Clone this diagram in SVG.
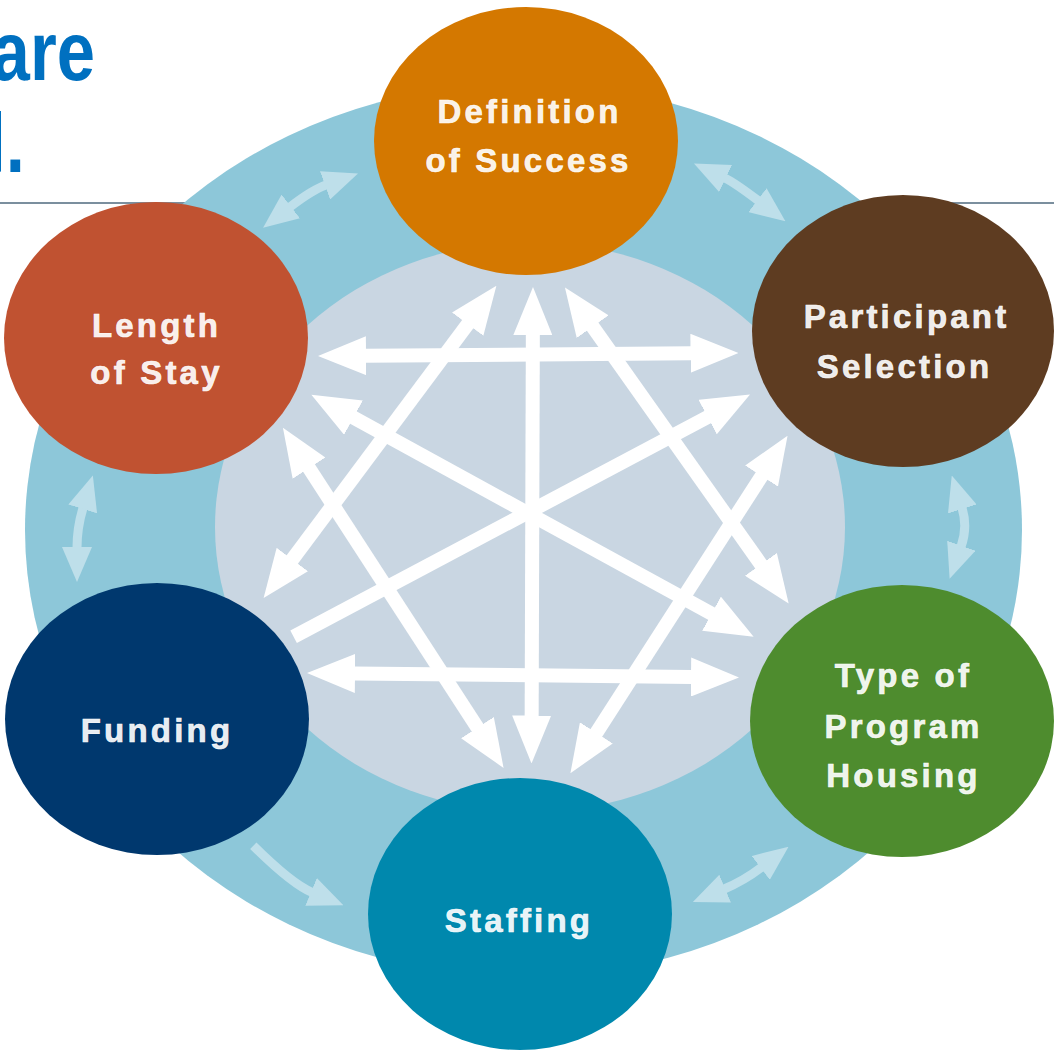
<svg xmlns="http://www.w3.org/2000/svg" width="1054" height="1053" viewBox="0 0 1054 1053">
<style>
.lbl{font-family:"Liberation Sans",Arial,sans-serif;font-weight:bold;font-size:33px;letter-spacing:3.2px;fill:#FFFFFF;fill-opacity:0.92;stroke:#FFFFFF;stroke-opacity:0.9;stroke-width:0.7px;text-anchor:middle}
.ttl{font-family:"Liberation Sans",Arial,sans-serif;font-weight:bold;font-size:84px;fill:#0070C0;text-anchor:end}
.wa{stroke:#FFFFFF;stroke-width:14;fill:none;marker-start:url(#wh);marker-end:url(#wh)}
.ra{stroke:#BEDFEA;stroke-width:9;fill:none;marker-end:url(#rh)}
.rb{marker-start:url(#rh)}
</style>
<defs>
<marker id="wh" markerUnits="userSpaceOnUse" markerWidth="48" markerHeight="39" refX="1" refY="19.5" orient="auto-start-reverse"><path d="M0,0 L48,19.5 L0,39 z" fill="#FFFFFF"/></marker>
<marker id="rh" markerUnits="userSpaceOnUse" markerWidth="35" markerHeight="30" refX="1" refY="15" orient="auto-start-reverse"><path d="M0,0 L35,15 L0,30 z" fill="#BEDFEA"/></marker>
</defs>
<rect width="1054" height="1053" fill="#FFFFFF"/>
<g id="title">
<line x1="0" y1="203" x2="1054" y2="203" stroke="#4F6A7E" stroke-width="1.6"/>
<text class="ttl" transform="translate(95,80) scale(0.82,1)">are</text>
<text class="ttl" transform="translate(25,172) scale(0.82,1)">l.</text>
</g>
<g id="background">
<ellipse cx="523.5" cy="530" rx="498.5" ry="447" fill="#8DC7D9"/>
<ellipse cx="530" cy="527" rx="315" ry="285" fill="#C9D6E2"/>
</g>
<g id="connectors">
<path class="ra rb" d="M290,207 Q312,190 326,185"/>
<path class="ra rb" d="M724.7,178 Q734.6,182.7 758.3,200.7"/>
<path class="ra rb" d="M962,508 Q968,527 961,546.7"/>
<path class="ra rb" d="M761.5,867.3 Q743.8,880.8 724.2,889"/>
<path class="ra" d="M253.3,845.7 Q292,884 312,892.3"/>
<path class="ra rb" d="M83,508 Q77,527.8 77,548"/>
<line class="wa" x1="532.85" y1="334" x2="531.65" y2="716.5"/>
<line class="wa" x1="365" y1="355.67" x2="691.5" y2="353.33"/>
<line class="wa" x1="354" y1="673.5" x2="692" y2="677"/>
<line class="wa" x1="468.3" y1="323.4" x2="291.7" y2="560.3"/>
<line class="wa" x1="592.1" y1="325.9" x2="761.5" y2="565.2"/>
<line class="wa" x1="352.6" y1="417.2" x2="712.4" y2="614.2"/>
<line class="wa" x1="708.5" y1="416.6" x2="293.6" y2="636.8" style="marker-end:none"/>
<line class="wa" x1="308.5" y1="467.3" x2="478" y2="728.5"/>
<line class="wa" x1="762.1" y1="475.2" x2="595.8" y2="733.7"/>
</g>
<g id="node-definition">
<ellipse cx="526" cy="141" rx="152" ry="134" fill="#D47800"/>
<text class="lbl" x="529.5" y="123">Definition</text>
<text class="lbl" x="528.5" y="172">of Success</text>
</g>
<g id="node-participant">
<ellipse cx="903" cy="331" rx="151" ry="136" fill="#5E3C21"/>
<text class="lbl" x="906.5" y="328">Participant</text>
<text class="lbl" x="904.5" y="378">Selection</text>
</g>
<g id="node-type">
<ellipse cx="902" cy="721" rx="152" ry="136" fill="#4E8C2E"/>
<text class="lbl" x="903.5" y="687">Type of</text>
<text class="lbl" x="903.5" y="738">Program</text>
<text class="lbl" x="903.5" y="787">Housing</text>
</g>
<g id="node-staffing">
<ellipse cx="520" cy="914" rx="152" ry="136" fill="#0088AD"/>
<text class="lbl" x="519" y="932">Staffing</text>
</g>
<g id="node-funding">
<ellipse cx="157" cy="719" rx="152" ry="136" fill="#00386E"/>
<text class="lbl" x="157" y="742">Funding</text>
</g>
<g id="node-length">
<ellipse cx="156" cy="338" rx="152" ry="136" fill="#C05231"/>
<text class="lbl" x="156.5" y="337">Length</text>
<text class="lbl" x="156.5" y="384">of Stay</text>
</g>
</svg>
